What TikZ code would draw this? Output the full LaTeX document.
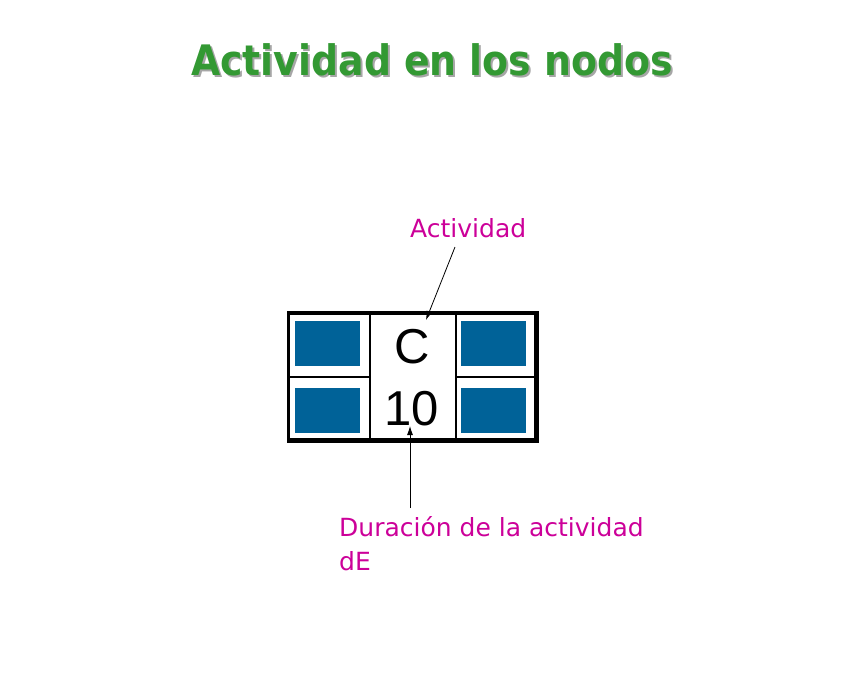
\documentclass[tikz,border=0pt]{standalone}
\usepackage{fontspec}
\setmainfont{DejaVu Sans}
\newfontfamily\arialfont{Liberation Sans}
\usetikzlibrary{arrows.meta}
\definecolor{verdetitulo}{RGB}{51,153,51}
\definecolor{rosaetiqueta}{RGB}{204,0,153}
\definecolor{azulcasilla}{RGB}{0,98,152}

\tikzset{
  casilla/.style={fill=azulcasilla,minimum width=65pt,minimum height=45pt,inner sep=0pt},
  valor/.style={font=\arialfont\fontsize{49}{49}\selectfont,inner sep=0pt,anchor=base},
  etiqueta/.style={text=rosaetiqueta,font=\fontsize{25}{34}\selectfont,inner sep=0pt},
  flecha/.style={-{Latex[length=9pt,width=6pt]},line width=0.8pt}
}

\begin{document}
\begin{tikzpicture}[x=1pt, y=-1pt]
            \useasboundingbox (0,0) rectangle (864,672);
            \tikzstyle{titulo}=[font=\fontsize{42}{42}\selectfont\bfseries,inner sep=0pt]
            \node[titulo,text=black!35] (T_sombra) at (434,62) {\scalebox{0.9}[1]{Actividad en los nodos}};
            \node[titulo,text=verdetitulo] (T) at (432,60) {\scalebox{0.9}[1]{Actividad en los nodos}};

            % caja del nodo
            \draw[line width=3.5pt] (288.5,313) rectangle (536.5,440);
            \draw[line width=5pt] (536.5,311) -- (536.5,440) -- (287,440);
            \draw[line width=2.5pt] (370,313) -- (370,440);
            \draw[line width=2.5pt] (456,313) -- (456,440);
            \draw[line width=2.5pt] (288.5,377) -- (370,377);
            \draw[line width=2.5pt] (456,377) -- (536.5,377);

            \node[casilla] (C_1) at (327.5,343.5) {};
            \node[casilla] (C_2) at (327.5,410.5) {};
            \node[casilla] (C_3) at (493.5,343.5) {};
            \node[casilla] (C_4) at (493.5,410.5) {};

            \node[valor] (nombre) at (412,363) {C};
            \node[valor] (duracion) at (412,425) {10};

            \node[etiqueta,anchor=base west] (L_act) at (410,237) {Actividad};
            \node[etiqueta,anchor=north west,align=left] (L_dur) at (339,516) {Duración de la actividad\\dE};

            \coordinate (A_1) at (455,247);
            \coordinate (A_2) at (426,320);
            \coordinate (B_1) at (410,508);
            \coordinate (B_2) at (410,426);
            \draw[flecha] (A_1) -- (A_2);
            \draw[flecha] (B_1) -- (B_2);
\end{tikzpicture}
\end{document}
